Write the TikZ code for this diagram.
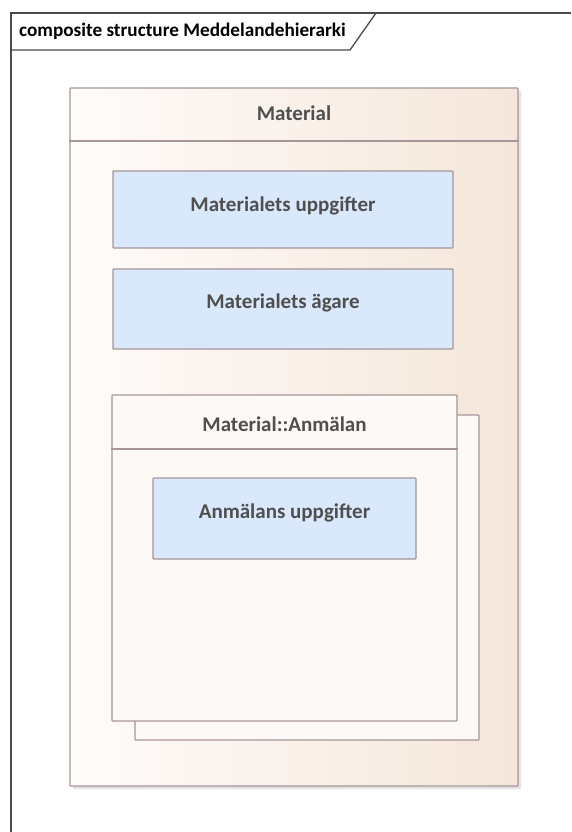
\documentclass[tikz,border=0pt]{standalone}
\usepackage{fontspec}
\setmainfont{Carlito}
\usetikzlibrary{shadows}
\definecolor{framegray}{HTML}{4A4A4A}
\definecolor{boxedge}{HTML}{A7959A}
\definecolor{partblue}{HTML}{DAE8FB}
\definecolor{matleft}{HTML}{FFFCFA}
\definecolor{matright}{HTML}{F4E6DA}
\definecolor{roleback}{HTML}{FDF9F6}
\definecolor{labelgray}{HTML}{4F4F4F}
\begin{document}
\begin{tikzpicture}[
    x=1pt, y=-1pt,
    every node/.style={inner sep=0pt, font=\fontsize{21}{25}\selectfont\bfseries},
    box/.style={draw=boxedge, line width=1.2pt, rounded corners=0.8pt},
    partbox/.style={box, fill=partblue},
    rolebox/.style={box, fill=roleback},
    caption/.style={anchor=base, text=labelgray}
]
\useasboundingbox (0,0) rectangle (571,832);

% diagram frame and its tab
\draw[framegray, line width=1.3pt] (571,13) -- (11,13) -- (11,832);
\draw[framegray, line width=1.3pt] (11,50) -- (350,50) -- (376,13);
\node[anchor=base west, font=\fontsize{19.2}{23}\selectfont\bfseries] (frametitle) at (19,37) {composite structure Meddelandehierarki};

% Material
\node[box, minimum width=448pt, minimum height=698pt, left color=matleft, right color=matright,
      drop shadow={shadow xshift=3pt, shadow yshift=-3pt, fill=black!22}] (material) at (294,437) {};
\coordinate (matsep) at (0,141);
\draw[boxedge, line width=1.2pt] (material.west |- matsep) -- (material.east |- matsep);
\node[caption] (materialname) at (294,121) {Material};

\node[partbox, minimum width=340pt, minimum height=77pt] (uppgifter) at (283,209.5) {};
\node[caption] (uppgiftername) at (283,211) {Materialets uppgifter};

\node[partbox, minimum width=340pt, minimum height=80pt] (agare) at (283,309) {};
\node[caption] (agarename) at (283,308) {Materialets ägare};

% Material::Anmälan (multiple)
\node[rolebox, minimum width=344pt, minimum height=325pt] (anmalanback) at (307,577.5) {};
\node[rolebox, minimum width=345pt, minimum height=326pt] (anmalan) at (284.5,558) {};
\coordinate (anmsep) at (0,449);
\draw[boxedge, line width=1.2pt] (anmalan.west |- anmsep) -- (anmalan.east |- anmsep);
\node[caption] (anmalanname) at (284.5,431) {Material::Anmälan};

\node[partbox, minimum width=263pt, minimum height=81pt] (anmuppgifter) at (284.5,518.5) {};
\node[caption] (anmuppgiftername) at (284.5,518) {Anmälans uppgifter};
\end{tikzpicture}
\end{document}
